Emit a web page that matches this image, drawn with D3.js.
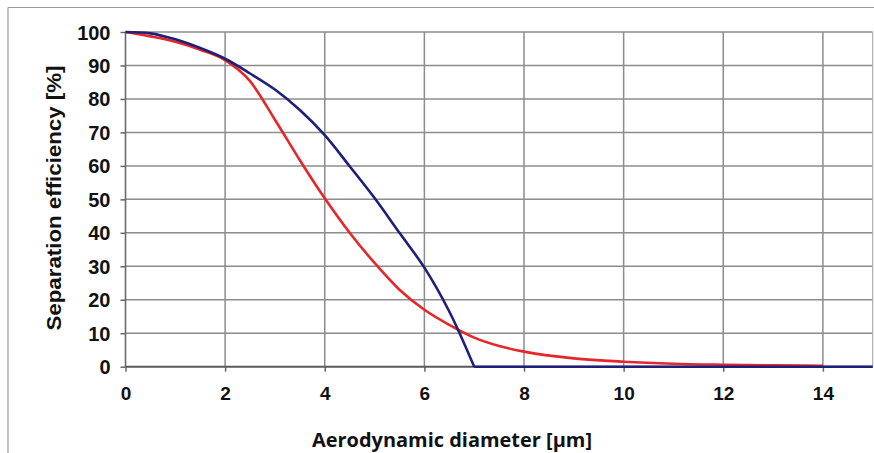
<!DOCTYPE html>
<html><head><meta charset="utf-8">
<script src="https://cdn.jsdelivr.net/npm/d3@7"></script>
<style>html,body{margin:0;padding:0;background:#fff;}svg{display:block;}</style>
</head><body>
<svg id="chart" width="874" height="453"></svg>
<script>
// ---- data ----
const xTicks = [0, 2, 4, 6, 8, 10, 12, 14];
const yTicks = [0, 10, 20, 30, 40, 50, 60, 70, 80, 90, 100];
const blueX = [0, 0.5, 1, 1.5, 2, 2.5, 3, 3.5, 4, 4.5, 5, 5.5, 6, 6.5, 7, 15];
const blueY = [100, 99.6, 97.8, 95.2, 92, 87.6, 82.8, 76.7, 69.2, 59.9, 50.4, 40, 29.6, 16.5, 0, 0];
const redX = [0, 0.5, 1, 1.5, 2, 2.5, 3, 3.5, 4, 4.5, 5, 5.5, 6, 6.5, 7, 7.5, 8, 9, 10, 11, 12, 13, 14];
const redY = [100, 98.7, 97.1, 94.7, 91.6, 85.3, 73.8, 61.7, 50.3, 40, 31, 23, 17, 12.5, 8.7, 6.2, 4.5, 2.5, 1.5, 0.9, 0.6, 0.4, 0.3];
const xTitle = "Aerodynamic diameter [µm]";
const yTitle = "Separation efficiency [%]";

const svg = d3.select("#chart");
const W = 874, H = 453;
const m = {left: 125.5, right: 1.3, top: 32, bottom: 86.3};
const x = d3.scaleLinear().domain([0, 15]).range([m.left, W - m.right]);
const y = d3.scaleLinear().domain([0, 100]).range([H - m.bottom, m.top]);

// outer frame (left + top)
svg.append("line").attr("x1", 8).attr("x2", 8).attr("y1", 7.5).attr("y2", H).attr("stroke", "#9a9a9a").attr("stroke-width", 1.2);
svg.append("line").attr("x1", 8).attr("x2", W).attr("y1", 7.5).attr("y2", 7.5).attr("stroke", "#9a9a9a").attr("stroke-width", 1.2);

const font = "'Liberation Sans', Arial, sans-serif";

// grid
const g = svg.append("g");
g.selectAll("line.hg").data(yTicks.filter(d => d > 0)).join("line")
  .attr("x1", x(0)).attr("x2", x(15)).attr("y1", d => y(d)).attr("y2", d => y(d))
  .attr("stroke", "#8c8c8c").attr("stroke-width", 1.5);
g.selectAll("line.vg").data(xTicks.filter(d => d > 0)).join("line")
  .attr("x1", d => x(d)).attr("x2", d => x(d)).attr("y1", y(100)).attr("y2", y(0))
  .attr("stroke", "#8c8c8c").attr("stroke-width", 1.5);
// right border of plot
g.append("line").attr("x1", x(15)).attr("x2", x(15)).attr("y1", y(100)).attr("y2", y(0))
  .attr("stroke", "#b0b0b0").attr("stroke-width", 1.2);

// axes
const xAxis = d3.axisBottom(x).tickValues(xTicks).tickSize(5).tickPadding(15).tickFormat(d3.format("d"));
const yAxis = d3.axisLeft(y).tickValues(yTicks).tickSize(5).tickPadding(10).tickFormat(d3.format("d"));
const gx = svg.append("g").attr("transform", `translate(0,${y(0)})`).call(xAxis);
const gy = svg.append("g").attr("transform", `translate(${x(0)},0)`).call(yAxis);
[gx, gy].forEach(a => {
  a.select(".domain").remove();
  a.selectAll(".tick line").attr("stroke", "#666").attr("stroke-width", 1.5);
  a.selectAll(".tick text").attr("fill", "#111").style("font-family", font)
   .style("font-weight", "bold").style("font-size", "19px");
});
gy.selectAll(".tick text").attr("dy", "0.35em").style("font-size", "20px");
svg.append("line").attr("x1", x(0)).attr("x2", x(15)).attr("y1", y(0)).attr("y2", y(0))
  .attr("stroke", "#5a5a5a").attr("stroke-width", 2);
svg.append("line").attr("x1", x(0)).attr("x2", x(0)).attr("y1", y(100)).attr("y2", y(0))
  .attr("stroke", "#6a6a6a").attr("stroke-width", 1.6);

// curves
const line = d3.line().x(d => x(d[0])).y(d => y(d[1]));
const blue = blueX.map((v, i) => [v, blueY[i]]);
const red = redX.map((v, i) => [v, redY[i]]);
const iKnee = blueY.indexOf(0);
svg.append("path").datum(red).attr("d", line.curve(d3.curveMonotoneX))
  .attr("fill", "none").attr("stroke", "#e6262a").attr("stroke-width", 2.6);
svg.append("path").datum(blue.slice(0, iKnee + 1)).attr("d", line.curve(d3.curveCatmullRom.alpha(0.5)))
  .attr("fill", "none").attr("stroke", "#1d1f78").attr("stroke-width", 2.6);
svg.append("path").datum(blue.slice(iKnee)).attr("d", line.curve(d3.curveLinear))
  .attr("fill", "none").attr("stroke", "#1d1f78").attr("stroke-width", 2.6);

// titles
svg.append("text").text(xTitle)
  .attr("x", 452).attr("y", 447).attr("text-anchor", "middle")
  .attr("textLength", 280).attr("lengthAdjust", "spacingAndGlyphs")
  .style("font-family", "'Open Sans', sans-serif").style("font-weight", "bold")
  .style("font-size", "20px").attr("fill", "#111");
svg.append("text").text(yTitle)
  .attr("transform", "translate(61,198) rotate(-90)").attr("text-anchor", "middle")
  .attr("textLength", 265).attr("lengthAdjust", "spacingAndGlyphs")
  .style("font-family", font).style("font-weight", "bold")
  .style("font-size", "21px").attr("fill", "#111");
</script>
</body></html>
